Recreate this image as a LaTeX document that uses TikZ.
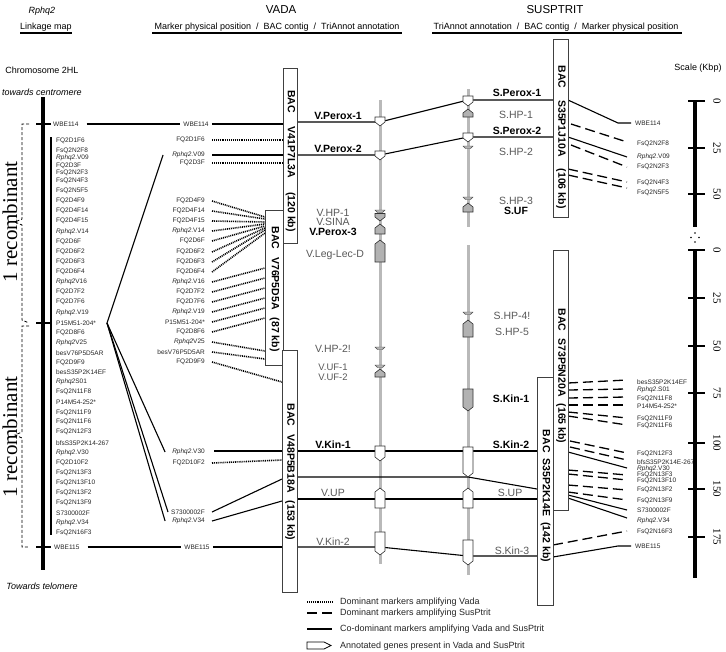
\documentclass[tikz,border=0pt]{standalone}
\usepackage{fontspec}
\setmainfont{Liberation Sans}
\newfontfamily\serifface{Liberation Serif}
\newcommand{\genedn}[4]{\filldraw[fill=#4, draw=black!80, line width=0.6pt] (#1-5,#2) -- (#1+5,#2) -- (#1+5,#3-4) -- (#1,#3) -- (#1-5,#3-4) -- cycle;}
\newcommand{\geneup}[4]{\filldraw[fill=#4, draw=black!80, line width=0.6pt] (#1-5,#3) -- (#1+5,#3) -- (#1+5,#2+4) -- (#1,#2) -- (#1-5,#2+4) -- cycle;}
\newcommand{\genethin}[2]{\filldraw[fill=gray!60, draw=black!70, line width=0.4pt] (#1-5,#2) -- (#1+5,#2) -- (#1+2.5,#2+2.5) -- (#1-2.5,#2+2.5) -- cycle;}
\begin{document}
\begin{tikzpicture}[x=1pt,y=-1pt,
  mk/.style={font=\fontsize{6.5}{7}\selectfont, text=black!85, inner sep=0pt},
  mkl/.style={mk, anchor=west},
  mkr/.style={mk, anchor=east},
  hdr/.style={font=\fontsize{9}{10}\selectfont, inner sep=0pt},
  leg/.style={font=\fontsize{9}{10}\selectfont, inner sep=0pt, anchor=west, text=black!85},
  gl/.style={font=\fontsize{10.5}{11}\selectfont, text=black!65, inner sep=0pt},
  gls/.style={font=\fontsize{9.5}{10}\selectfont, text=black!65, inner sep=0pt},
  gb/.style={font=\fontsize{10.5}{11}\selectfont\bfseries, inner sep=0pt},
  bacbox/.style={draw=black!75, fill=white, line width=0.7pt, inner sep=0pt},
  bact/.style={font=\fontsize{10.5}{11}\selectfont\bfseries, rotate=-90, inner sep=0pt},
  dotl/.style={line width=1.6pt, dash pattern=on 1pt off 0.9pt},
  dashl/.style={line width=1.3pt, dash pattern=on 10pt off 5pt},
  soll/.style={line width=1.1pt},
  recl/.style={font=\serifface\fontsize{21}{23}\selectfont, rotate=90, inner sep=0pt},
  scl/.style={font=\serifface\fontsize{11}{12}\selectfont, rotate=-90, inner sep=0pt}
]
\fill[white] (0,0) rectangle (726,651);
\useasboundingbox (0,0) rectangle (726,651);

% ---------------- header
\node[hdr, font=\fontsize{9}{10}\selectfont\itshape] (rph) at (42,11) {Rphq2};
\node[hdr] (lmap) at (46,27) {Linkage map};
\draw[line width=2.5pt] (20,33) -- (72,33);
\node[font=\fontsize{11.5}{12}\selectfont, inner sep=0pt] (vada) at (281,10) {VADA};
\node[hdr] (vsub) at (277,27) {Marker physical position\ \ /\ \ BAC contig\ \ /\ \ TriAnnot annotation};
\draw[line width=2.5pt] (152,33) -- (402,33);
\node[font=\fontsize{11.5}{12}\selectfont, inner sep=0pt] (susp) at (555,10) {SUSPTRIT};
\node[hdr] (ssub) at (556,27) {TriAnnot annotation\ \ /\ \ BAC contig\ \ /\ \ Marker physical position};
\draw[line width=2.5pt] (432,33) -- (682,33);
\node[hdr] (chr) at (42,70) {Chromosome 2HL};
\node[hdr, font=\fontsize{9}{10}\selectfont\itshape] (cen) at (42,92) {towards centromere};
\node[hdr, font=\fontsize{9}{10}\selectfont\itshape] (tel) at (42,586) {Towards telomere};
\node[hdr] (scl) at (698,68) {Scale (Kbp)};

% ---------------- linkage map
\draw[line width=4pt] (43,97) -- (43,570);
\draw[line width=1.1pt] (51,137) -- (51,535);
\draw[line width=1.5pt] (36,124) -- (51,124);
\draw[line width=1.5pt] (36,323) -- (51,323);
\draw[line width=1.5pt] (36,547) -- (51,547);
\draw[line width=0.8pt, dash pattern=on 3pt off 2pt] (29,124) -- (22,124) -- (22,219) -- (15,222) -- (22,225) -- (22,320) -- (29,323);
\draw[line width=0.8pt, dash pattern=on 3pt off 2pt] (29,326) -- (22,326) -- (22,432) -- (15,435) -- (22,438) -- (22,547) -- (29,547);
\node[recl] (rec1) at (10,222) {1 recombinant};
\node[recl] (rec2) at (10,437) {1 recombinant};

\node[mkl] (lW114) at (53,124) {WBE114};
\node[mkl] (lW115) at (54,547) {WBE115};
\foreach \t/\y [count=\i] in {
FQ2D1F6/141, FsQ2N2F8/151, {\textit{Rphq2}.V09}/158, FQ2D3F/166, FsQ2N2F3/173, FsQ2N4F3/181,
FsQ2N5F5/191, FQ2D4F9/201, FQ2D4F14/211, FQ2D4F15/221, {\textit{Rphq2}.V14}/232, FQ2D6F/242,
FQ2D6F2/252, FQ2D6F3/262, FQ2D6F4/272, {\textit{Rphq2}V16}/282, FQ2D7F2/292, FQ2D7F6/302,
{\textit{Rphq2}.V19}/313, P15M51-204*/323, FQ2D8F6/333, {\textit{Rphq2}V25}/343, besV76P5D5AR/353,
FQ2D9F9/363, { besS35P2K14EF}/372, {\textit{Rphq2}S01}/382, FsQ2N11F8/392, P14M54-252*/402,
FsQ2N11F9/413, FsQ2N11F6/422, FsQ2N12F3/432, { bfsS35P2K14-267}/443, {\textit{Rphq2}.V30}/453,
FQ2D10F2/463, FsQ2N13F3/473, FsQ2N13F10/483, FsQ2N13F2/493, FsQ2N13F9/503, S7300002F/513,
{\textit{Rphq2}.V34}/523, FsQ2N16F3/533}
  \node[mkl] (l\i) at (56,\y) {\t};

% ---------------- gene axes
\draw[line width=3pt, gray!55] (380,100) -- (380,564);
\draw[line width=3pt, gray!55] (468,89) -- (468,227);
\draw[line width=3pt, gray!55] (468,245) -- (468,575);

% ---------------- VADA markers
\node[mk] (vW114) at (196,124) {WBE114};
\node[mk] (vW115) at (197,547) {WBE115};
\draw[soll] ([xshift=8pt]lW114.east) -- ([xshift=-3pt]vW114.west);
\draw[soll] ([xshift=3pt]vW114.east) -- (283,124);
\draw[soll] ([xshift=8pt]lW115.east) -- ([xshift=-3pt]vW115.west);
\draw[soll] ([xshift=3pt]vW115.east) -- (282,547);

\node[mkr] (vF1) at (205,140) {FQ2D1F6};
\node[mkr] (vV09) at (205,155) {\textit{Rphq2}.V09};
\node[mkr] (vF3) at (205,163) {FQ2D3F};
\draw[dotl] ([xshift=7pt]vF1.east) -- (283,140);
\draw[soll] ([xshift=7pt]vV09.east) -- (283,155);
\draw[dotl] ([xshift=7pt]vF3.east) -- (283,163);

\foreach \n/\t/\y/\e in {a/FQ2D4F9/201/217, b/FQ2D4F14/211/219, c/FQ2D4F15/221/222,
  d/{\textit{Rphq2}.V14}/231/224, e/FQ2D6F/241/226, f/FQ2D6F2/252/228, g/FQ2D6F3/262/230,
  h/FQ2D6F4/272/233, i/{\textit{Rphq2}.V16}/282/268, j/FQ2D7F2/292/278, k/FQ2D7F6/302/288,
  m/{\textit{Rphq2}.V19}/312/298, o/P15M51-204*/322/308, p/FQ2D8F6/332/318,
  q/{\textit{Rphq2}V25}/342/351, r/besV76P5D5AR/352/359}
{
  \node[mkr] (v\n) at (205,\y) {\t};
  \draw[dotl] ([xshift=7pt]v\n.east) -- (265,\e);
}
\node[mkr] (vD9) at (205,362) {FQ2D9F9};
\draw[dotl] ([xshift=7pt]vD9.east) -- (282,382);
\node[mkr] (vV30) at (205,452) {\textit{Rphq2}.V30};
\draw[soll] (vV30.east) ++(9,-1) -- (282,451);
\node[mkr] (vD10) at (205,463) {FQ2D10F2};
\draw[dotl] ([xshift=7pt]vD10.east) -- (282,460);
\node[mkr] (vS73) at (205,512) {S7300002F};
\draw[soll] ([xshift=7pt]vS73.east) -- (282,479);
\node[mkr] (vV34) at (205,521) {\textit{Rphq2}.V34};
\draw[soll] ([xshift=7pt]vV34.east) -- (282,501);

% fan from P15M51-204*
\coordinate (fan) at (107,323);
\draw[soll] (fan) -- ([xshift=-9pt]vV09.west);
\draw[soll] (fan) -- ([xshift=-7pt]vV30.west);
\draw[soll] (fan) -- ([xshift=-3pt]vS73.west);
\draw[soll] (fan) -- ([xshift=-7pt]vV34.west);

% ---------------- lines through the genes
\draw[soll] (297,122) -- (380,122) -- (468,100) -- (553,100);
\draw[soll] (297,155) -- (380,155) -- (468,137) -- (553,137);
\draw[soll] (297,451) -- (537,451);
\draw[soll] (297,477) -- (468,477) -- (537,489);
\draw[soll] (297,499) -- (537,499);
\draw[soll] (297,547) -- (380,547) -- (468,556) -- (537,556);

% ---------------- genes
\genedn{380}{117}{126}{white}
\genedn{380}{151}{160}{white}
\genethin{380}{210}
\genedn{380}{213.5}{221}{gray!60}
\geneup{380}{224}{234}{gray!60}
\geneup{380}{240}{262}{gray!60}
\genethin{380}{347}
\genethin{380}{365}
\geneup{380}{369}{377}{gray!60}
\genedn{380}{446}{461}{white}
\geneup{380}{488}{508}{white}
\genedn{380}{532}{555}{white}

\genedn{468}{96}{106}{white}
\geneup{468}{109}{117}{gray!60}
\genedn{468}{133}{142}{white}
\genethin{468}{146}
\genethin{468}{197}
\geneup{468}{203}{212}{gray!60}
\genethin{468}{312}
\geneup{468}{320}{337}{gray!60}
\genedn{468}{389}{411}{gray!60}
\genedn{468}{447}{477}{white}
\geneup{468}{488}{508}{white}
\genedn{468}{540}{565}{white}

% gene labels
\node[gb] (gVP1) at (338,116) {V.Perox-1};
\node[gb] (gVP2) at (338,149) {V.Perox-2};
\node[gb] (gSP1) at (517,93) {S.Perox-1};
\node[gb] (gSP2) at (517,131) {S.Perox-2};
\node[gl] (gSH1) at (516,115) {S.HP-1};
\node[gl] (gSH2) at (516,152) {S.HP-2};
\node[gl] (gSH3) at (516,201) {S.HP-3};
\node[gb] (gSUF) at (516,211) {S.UF};
\node[gl] (gVH1) at (333,213) {V.HP-1};
\node[gl] (gVSI) at (333,222) {V.SINA};
\node[gb] (gVP3) at (333,232) {V.Perox-3};
\node[gl] (gVLL) at (335,255) {V.Leg-Lec-D};
\node[gl] (gSH4) at (512,316) {S.HP-4!};
\node[gl] (gSH5) at (512,332) {S.HP-5};
\node[gl] (gVH2) at (333,349) {V.HP-2!};
\node[gls] (gVU1) at (333,367) {V.UF-1};
\node[gls] (gVU2) at (333,377) {V.UF-2};
\node[gb] (gSK1) at (511,399) {S.Kin-1};
\node[gb] (gVK1) at (333,445) {V.Kin-1};
\node[gb] (gSK2) at (511,445) {S.Kin-2};
\node[gl] (gVUP) at (333,493) {V.UP};
\node[gl] (gSUP) at (510,493) {S.UP};
\node[gl] (gVK2) at (333,542) {V.Kin-2};
\node[gl] (gSK3) at (512,551) {S.Kin-3};

% ---------------- SusPtrit markers
\node[mkl] (rW114) at (635,123) {WBE114};
\draw[soll] (568,100) -- (618,123) -- ([xshift=-4pt]rW114.west);
\node[mkl] (rW115) at (635,546) {WBE115};
\draw[soll] (553,557) -- (618,546) -- ([xshift=-4pt]rW115.west);
\foreach \n/\t/\y/\sx/\sy/\ey/\sty in {
  a/FsQ2N2F8/144/571/124/142/dashl, b/{\textit{Rphq2}.V09}/157/568/137/157/soll,
  c/FsQ2N2F3/167/571/145/167/dashl, d/FsQ2N4F3/183/568/169/182/dashl,
  e/FsQ2N5F5/193/568/175/188/dashl,
  f/besS35P2K14EF/382/568/383/380/dashl, g/{\textit{Rphq2}.S01}/390/568/390/389/dashl,
  h/FsQ2N11F8/399/568/398/397/dashl, i/P14M54-252*/406/568/405/405/dashl,
  j/FsQ2N11F9/419/568/412/418/dashl, k/FsQ2N11F6/426/568/416/425/dashl,
  m/FsQ2N12F3/454/570/441/453/dashl, o/bfsS35P2K14E-267/462/570/447/460/dashl,
  p/{\textit{Rphq2}.V30}/469/568/452/468/soll, q/FsQ2N13F3/475/568/470/475/dashl,
  r/FsQ2N13F10/481/568/474/480/dashl, s/FsQ2N13F2/490/568/485/490/dashl,
  t/FsQ2N13F9/501/568/492/500/dashl, u/S7300002F/510/568/495/510/soll,
  v/{\textit{Rphq2}.V34}/521/568/498/518/soll, w/FsQ2N16F3/532/553/545/531/dashl}
{
  \node[mkl] (r\n) at (637,\y) {\t};
  \draw[\sty] (\sx,\sy) -- (627,\ey);
}

% ---------------- BAC boxes
\node[bacbox, minimum width=14pt, minimum height=175pt] (b41) at (290,155.5) {};
\node[bacbox, minimum width=18pt, minimum height=155pt] (b76) at (274,287.5) {};
\node[bacbox, minimum width=15pt, minimum height=242pt] (b48) at (289.5,471) {};
\node[bacbox, minimum width=15pt, minimum height=178pt] (s35a) at (560.5,128) {};
\node[bacbox, minimum width=15pt, minimum height=260pt] (s73) at (560.5,380) {};
\node[bacbox, minimum width=16pt, minimum height=228pt] (s35b) at (545,491) {};
\node[bact] (t41) at (290.5,161) {BAC\hspace{14pt}V41P7L3A\hspace{14pt}(120 kb)};
\node[bact] (t76) at (274.5,289) {BAC\hspace{8pt}V76P5D5A\hspace{8pt}(87 kb)};
\node[bact] (t48) at (290,472) {BAC\hspace{8pt}V48P5B18A\hspace{8pt}(153 kb)};
\node[bact] (ts35a) at (561,137) {BAC\hspace{12pt}S35P1J10A\hspace{12pt}(106 kb)};
\node[bact] (ts73) at (561,376) {BAC\hspace{7pt}S73P5N20A\hspace{7pt}(165 kb)};
\node[bact] (ts35b) at (545.5,496) {BAC\hspace{6pt}S35P2K14E\hspace{6pt}(142 kb)};

% ---------------- scale
\draw[line width=3.5pt] (695,101) -- (695,227);
\draw[line width=3.5pt] (695,250) -- (695,578);
\foreach \y/\t [count=\i] in {101/0,148/25,194/50,250/0,298/25,346/50,393/75,443/100,489/150,537/175}
{
  \draw[line width=2.5pt] (688,\y) -- (705,\y);
  \node[scl] (sc\i) at (717,\y) {\t};
}
\fill (695,233) circle (0.9pt);
\fill (691,237.5) circle (0.9pt);
\fill (699,237.5) circle (0.9pt);
\fill (695,242) circle (0.9pt);

% ---------------- legend
\node[leg] (lg1) at (340,602) {Dominant markers amplifying Vada};
\node[leg] (lg2) at (340,613) {Dominant markers amplifying SusPtrit};
\node[leg] (lg3) at (340,629) {Co-dominant markers amplifying Vada and SusPtrit};
\node[leg] (lg4) at (340,646) {Annotated genes present in Vada and SusPtrit};
\draw[dotl] (307,602) -- (332,602);
\draw[dashl] (307,613) -- (332,613);
\draw[soll] (307,629) -- (332,629);
\draw[line width=0.8pt] (307,642) -- (324,642) -- (331,645.5) -- (324,649) -- (307,649) -- cycle;
\end{tikzpicture}
\end{document}
